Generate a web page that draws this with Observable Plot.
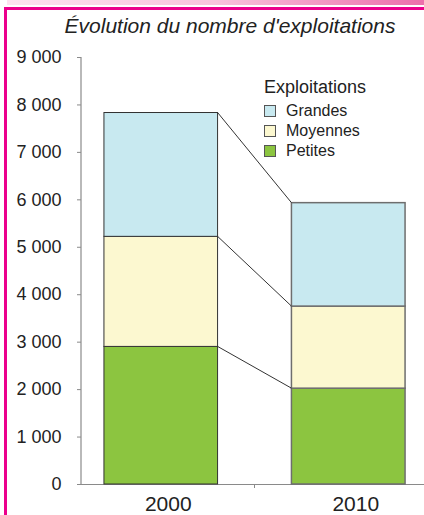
<!DOCTYPE html>
<html><head><meta charset="utf-8">
<script src="https://cdn.jsdelivr.net/npm/d3@7"></script>
<script src="https://cdn.jsdelivr.net/npm/@observablehq/plot@0.6"></script>
<style>
html,body{margin:0;padding:0;background:#fff;}
#wrap{position:relative;width:424px;height:515px;overflow:hidden;font-family:"Liberation Sans",Arial,sans-serif;color:#222;}
#chart{position:absolute;left:0;top:0;}
.topband{position:absolute;left:7px;top:0;width:417px;height:5px;background:linear-gradient(to right,#fde3f0,#f8c3dc 50%,#ec6fab);}
.topline{position:absolute;left:4px;top:7px;width:420px;height:3px;background:#ec008c;}
.leftline{position:absolute;left:4px;top:7px;width:3px;height:508px;background:#ec008c;}
#title{position:absolute;left:30px;width:400px;top:15px;text-align:center;font-style:italic;font-size:21px;line-height:21px;white-space:nowrap;}
.lg-title{position:absolute;left:264px;top:78px;font-size:18px;line-height:18px;white-space:nowrap;}
.lg-sw{position:absolute;left:264px;width:12px;height:12px;box-sizing:border-box;border:1px solid #555;}
.lg-tx{position:absolute;left:286px;font-size:16px;line-height:16px;white-space:nowrap;}
</style></head><body>
<div id="wrap">
  <div class="topband"></div>
  <div class="topline"></div>
  <div class="leftline"></div>
  <div id="chart"></div>
  <div id="title"></div>
  <div id="legend"></div>
</div>
<script>
// ---- data ----
const chartTitle = "Évolution du nombre d'exploitations";
const legendTitle = "Exploitations";
const years = ["2000", "2010"];
const categories = ["Petites", "Moyennes", "Grandes"];   // bottom to top
const petites = [2900, 2020];
const moyennes = [2320, 1730];
const grandes = [2610, 2180];
const categoryColors = ["#8cc540", "#fcf8d0", "#c8e9f0"];
const legendOrder = ["Grandes", "Moyennes", "Petites"];
const yTicks = [0, 1000, 2000, 3000, 4000, 5000, 6000, 7000, 8000, 9000];

// ---- table ----
const seriesValues = [petites, moyennes, grandes];
const rows = [];
years.forEach((yr, i) => categories.forEach((c, k) => rows.push({year: yr, category: c, value: seriesValues[k][i]})));
const rows2000 = rows.filter(d => d.year === years[0]);
const rows2010 = rows.filter(d => d.year === years[1]);
// cumulative tops for connectors
const tops = categories.map((c, k) => ({
  a: d3.sum(seriesValues.slice(0, k + 1), s => s[0]),
  b: d3.sum(seriesValues.slice(0, k + 1), s => s[1])
}));

const fmt = d => d3.format(",")(d).replace(/,/g, " ");

function extras(index, scales, values, dim) {
  const x = scales.x, y = scales.y;
  const bw = typeof x.bandwidth === "function" ? x.bandwidth() : x.bandwidth;
  const g = d3.create("svg:g");
  const x0 = x(years[0]), x1 = x(years[1]);
  // y axis line
  g.append("line").attr("x1", dim.marginLeft).attr("x2", dim.marginLeft)
    .attr("y1", y(yTicks[yTicks.length - 1])).attr("y2", y(0))
    .attr("stroke", "#8a8a8a").attr("stroke-width", 1.2);
  // separator tick between categories
  const sep = (x0 + bw + x1) / 2;
  g.append("line").attr("x1", sep).attr("x2", sep).attr("y1", y(0)).attr("y2", y(0) + 4)
    .attr("stroke", "#8a8a8a");
  // connectors
  for (const t of tops) {
    g.append("line").attr("x1", x0 + bw).attr("y1", y(t.a)).attr("x2", x1).attr("y2", y(t.b))
      .attr("stroke", "#333").attr("stroke-width", 1);
  }
  return g.node();
}

const chart = Plot.plot({
  width: 424,
  height: 515,
  marginTop: 57,
  marginBottom: 31,
  marginLeft: 81,
  marginRight: 0,
  style: {fontFamily: "'Liberation Sans', Arial, sans-serif", color: "#222", background: "transparent", overflow: "visible"},
  x: {type: "band", domain: years, range: [67, 442], paddingInner: 0.394, paddingOuter: 0.197, round: false, axis: null},
  y: {domain: [0, 9000], axis: null},
  color: {domain: categories, range: categoryColors},
  marks: [
    Plot.ruleY([0], {stroke: "#8a8a8a", strokeWidth: 1.2, insetLeft: -4}),
    Plot.barY(rows2000, {x: "year", y: "value", fill: "category", stroke: "#333", strokeWidth: 1}),
    Plot.barY(rows2010, {x: "year", y: "value", fill: "category", stroke: "#6e6e6e", strokeWidth: 1.5}),
    Plot.axisY(yTicks, {tickSize: 4, tickFormat: () => "", color: "#8a8a8a", label: null}),
    Plot.axisY(yTicks, {tickSize: 0, tickPadding: 20, tickFormat: fmt, fontSize: 18, color: "#222", label: null}),
    Plot.axisX(years, {tickSize: 0, tickPadding: 12, fontSize: 21, dx: 7, color: "#222", label: null}),
    extras
  ]
});
document.getElementById("chart").appendChild(chart);
document.getElementById("title").textContent = chartTitle;

// legend
const lg = document.getElementById("legend");
const lt = document.createElement("div");
lt.className = "lg-title"; lt.textContent = legendTitle; lg.appendChild(lt);
legendOrder.forEach((c, i) => {
  const sw = document.createElement("div");
  sw.className = "lg-sw";
  sw.style.top = (105 + i * 20) + "px";
  sw.style.background = categoryColors[categories.indexOf(c)];
  lg.appendChild(sw);
  const tx = document.createElement("div");
  tx.className = "lg-tx";
  tx.style.top = (103 + i * 20) + "px";
  tx.textContent = c;
  lg.appendChild(tx);
});
</script>
</body></html>
